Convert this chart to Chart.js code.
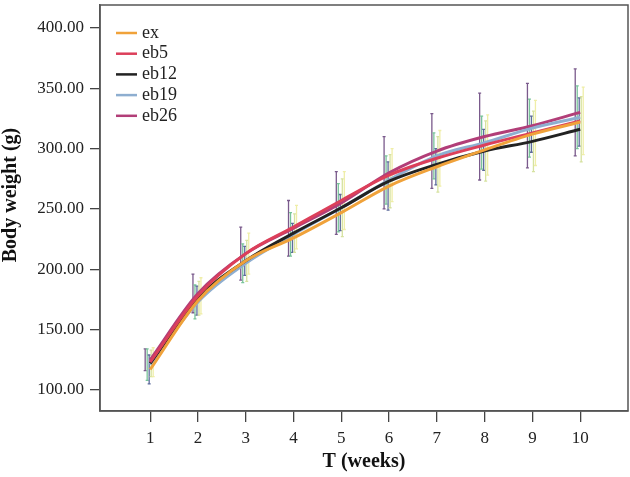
<!DOCTYPE html>
<html>
<head>
<meta charset="utf-8">
<script src="https://cdn.jsdelivr.net/npm/chart.js@4.4.0/dist/chart.umd.min.js"></script>
<style>
  html, body { margin: 0; padding: 0; background: #fff; }
  #wrap { width: 630px; height: 477px; }
</style>
</head>
<body>
<div id="wrap"><canvas id="myChart" width="630" height="477"></canvas></div>
<script>
// semanas y ticks
const weeks = [1, 2, 3, 4, 5, 6, 7, 8, 9, 10];
const yTicks = [100, 150, 200, 250, 300, 350, 400];
const seriesNames = ['ex', 'eb5', 'eb12', 'eb19', 'eb26'];

// medias (g)
const ex   = [117, 174, 207, 226, 247, 269, 285, 299, 312, 322];
const eb5  = [123, 178, 213, 235, 257, 278, 292, 303, 313, 323];
const eb12 = [122, 176, 207, 230, 251, 273, 287, 298, 306, 316];
const eb19 = [121, 173, 205, 229, 251, 274, 294, 305, 317, 326];
const eb26 = [125, 180, 213, 234, 255, 280, 298, 310, 319, 330];

// semi-amplitud de las barras de error
const errEx   = [12, 12, 12, 12, 15, 20, 15, 17, 15, 20];
const errEb5  = [12, 15, 17, 18, 24, 22, 23, 25, 27, 28];
const errEb12 = [11, 14, 17, 16, 24, 22, 23, 25, 25, 27];
const errEb19 = [13, 14, 16, 18, 20, 20, 19, 22, 24, 26];
const errEb26 = [9, 16, 22, 23, 26, 30, 31, 36, 35, 36];

const lineColors = ['#f0a23a', '#dc3f5a', '#222222', '#8eaed0', '#b23e78'];
const errColors  = ['#5d6b9c', '#efeea8', '#d6e2a0', '#79c49a', '#7a5a8c'];
const errShift   = [-1, 3, 1, -3, -5]; // px

const allMeans = [ex, eb5, eb12, eb19, eb26];
const allErr = [errEx, errEb5, errEb12, errEb19, errEb26];

const datasets = seriesNames.map((name, i) => ({
  label: name,
  data: weeks.map((w, j) => ({ x: w, y: allMeans[i][j] })),
  errors: allErr[i],
  errColor: errColors[i],
  errShift: errShift[i],
  borderColor: lineColors[i],
  backgroundColor: lineColors[i],
  borderWidth: 3,
  pointRadius: 0,
  tension: 0.4,
  cubicInterpolationMode: 'monotone',
  fill: false
}));

const serif = "'Liberation Serif', 'Times New Roman', serif";

// barras de error
const errorBars = {
  id: 'errorBars',
  beforeDatasetsDraw(chart) {
    const ctx = chart.ctx;
    const xs = chart.scales.x, ys = chart.scales.y;
    ctx.save();
    const order = [4, 3, 0, 2, 1];
    order.forEach(i => {
      const ds = chart.data.datasets[i];
      ctx.strokeStyle = ds.errColor;
      ctx.lineWidth = 1.3;
      ds.data.forEach((p, j) => {
        const px = xs.getPixelForValue(p.x) + ds.errShift;
        const top = ys.getPixelForValue(p.y + ds.errors[j]);
        const bot = ys.getPixelForValue(p.y - ds.errors[j]);
        ctx.beginPath();
        ctx.moveTo(px, top); ctx.lineTo(px, bot);
        ctx.moveTo(px - 1.5, top); ctx.lineTo(px + 1.5, top);
        ctx.moveTo(px - 1.5, bot); ctx.lineTo(px + 1.5, bot);
        ctx.stroke();
      });
    });
    ctx.restore();
  }
};

// marco, titulo Y y leyenda
const frameLegend = {
  id: 'frameLegend',
  afterDraw(chart) {
    const ctx = chart.ctx;
    const a = chart.chartArea;
    ctx.save();
    ctx.strokeStyle = '#555';
    ctx.lineWidth = 1.5;
    ctx.strokeRect(a.left, a.top, a.right - a.left, a.bottom - a.top);

    // titulo del eje Y
    ctx.save();
    ctx.translate(11, 195);
    ctx.rotate(-Math.PI / 2);
    ctx.font = 'bold 20px ' + serif;
    ctx.fillStyle = '#111';
    ctx.textAlign = 'center';
    ctx.textBaseline = 'middle';
    ctx.fillText('Body weight (g)', 0, 0);
    ctx.restore();

    ctx.font = '18px ' + serif;
    ctx.textBaseline = 'middle';
    chart.data.datasets.forEach((ds, i) => {
      const y = a.top + 28 + i * 20.7;
      ctx.strokeStyle = ds.borderColor;
      ctx.lineWidth = 2.5;
      ctx.beginPath();
      ctx.moveTo(a.left + 16, y);
      ctx.lineTo(a.left + 37, y);
      ctx.stroke();
      ctx.fillStyle = '#222';
      ctx.fillText(ds.label, a.left + 42, y);
    });
    ctx.restore();
  }
};

const ctx = document.getElementById('myChart').getContext('2d');
const myChart = new Chart(ctx, {
  type: 'line',
  data: { datasets: datasets },
  options: {
    responsive: false,
    animation: false,
    layout: { padding: { top: 5, right: 2, left: 0, bottom: 0 } },
    plugins: {
      legend: { display: false },
      tooltip: { enabled: false }
    },
    scales: {
      x: {
        type: 'linear',
        min: -0.05,
        max: 11,
        afterBuildTicks: s => { s.ticks = weeks.map(w => ({ value: w })); },
        afterFit: s => { s.height = 66; s.paddingLeft = 0; s.paddingRight = 0; },
        grid: { drawOnChartArea: false, tickLength: 11, color: '#444', lineWidth: 1.3 },
        border: { display: true, color: '#555', width: 1.5 },
        ticks: { color: '#222', font: { family: serif, size: 17 }, padding: 6 },
        title: {
          display: true, text: 'T (weeks)', color: '#111',
          font: { family: serif, size: 20, weight: 'bold' }, padding: { top: 4, bottom: 3 }
        }
      },
      y: {
        min: 82.6,
        max: 419,
        afterBuildTicks: s => { s.ticks = yTicks.map(v => ({ value: v })); },
        afterFit: s => { s.width = 100; s.paddingTop = 0; s.paddingBottom = 0; },
        grid: { drawOnChartArea: false, tickLength: 10, color: '#444', lineWidth: 1.3 },
        border: { display: true, color: '#555', width: 1.5 },
        ticks: {
          color: '#222', font: { family: serif, size: 17 }, padding: 6,
          callback: v => Number(v).toFixed(2)
        }
      }
    }
  },
  plugins: [errorBars, frameLegend]
});
</script>
</body>
</html>
